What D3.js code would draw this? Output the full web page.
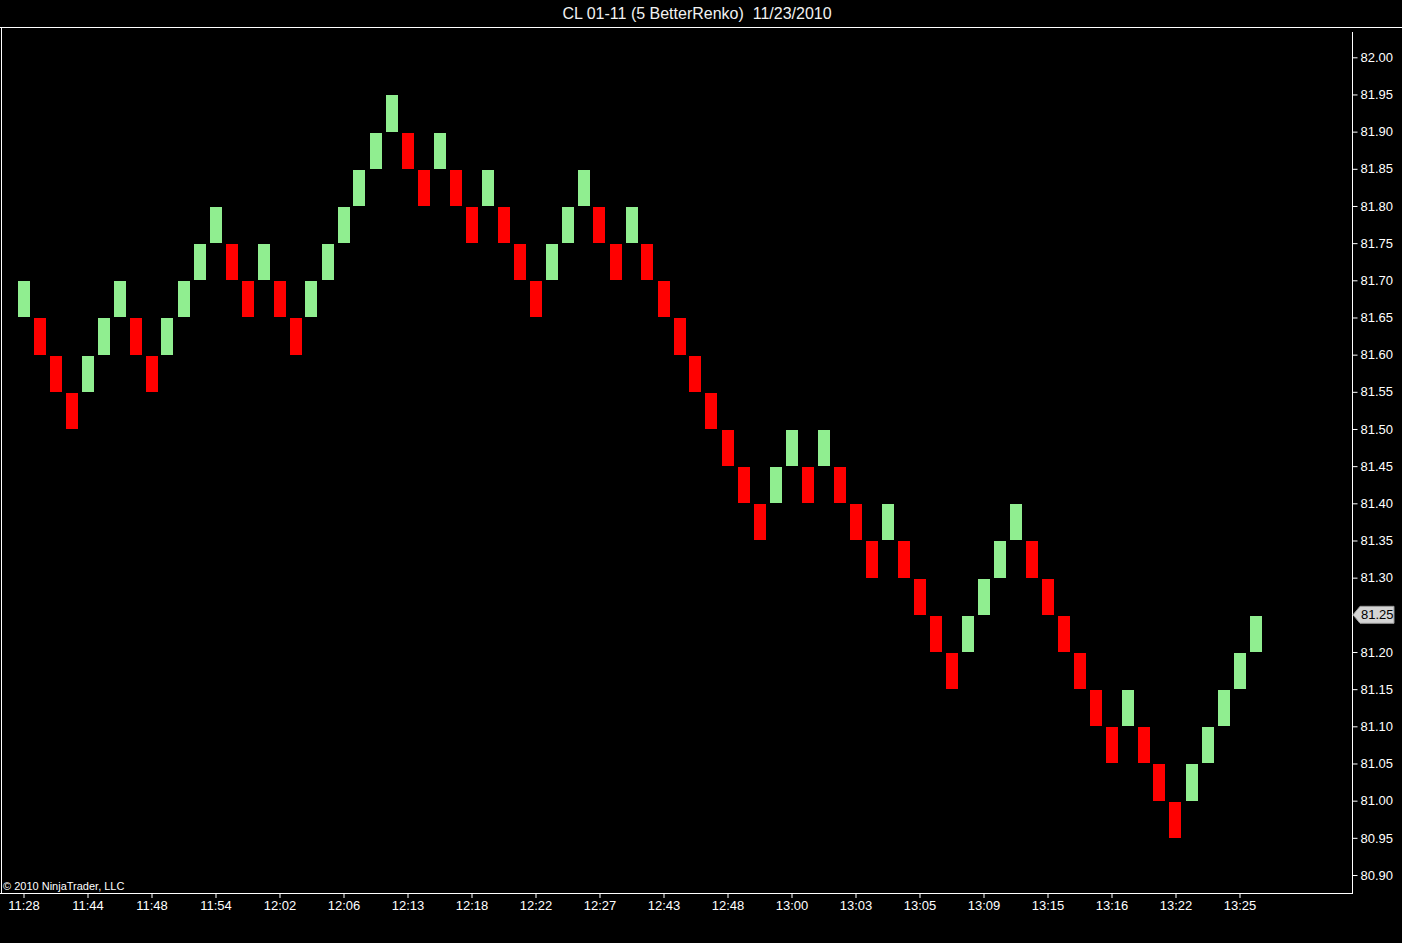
<!DOCTYPE html>
<html>
<head>
<meta charset="utf-8">
<script src="https://cdn.jsdelivr.net/npm/d3@7"></script>
<style>
  html, body { margin: 0; padding: 0; background: #000; }
  svg text { font-family: "Liberation Sans", Arial, sans-serif; }
</style>
</head>
<body>
<div id="chart"></div>
<script>
var svgWidth = 1402;
var svgHeight = 943;

// brick lows (5 tick brick = 0.05) and direction (1 up / -1 down)
var brickLow = [
  81.65, 81.60, 81.55, 81.50, 81.55, 81.60, 81.65, 81.60, 81.55, 81.60,
  81.65, 81.70, 81.75, 81.70, 81.65, 81.70, 81.65, 81.60, 81.65, 81.70,
  81.75, 81.80, 81.85, 81.90, 81.85, 81.80, 81.85, 81.80, 81.75, 81.80,
  81.75, 81.70, 81.65, 81.70, 81.75, 81.80, 81.75, 81.70, 81.75, 81.70,
  81.65, 81.60, 81.55, 81.50, 81.45, 81.40, 81.35, 81.40, 81.45, 81.40,
  81.45, 81.40, 81.35, 81.30, 81.35, 81.30, 81.25, 81.20, 81.15, 81.20,
  81.25, 81.30, 81.35, 81.30, 81.25, 81.20, 81.15, 81.10, 81.05, 81.10,
  81.05, 81.00, 80.95, 81.00, 81.05, 81.10, 81.15, 81.20
];
var brickDir = [
   1, -1, -1, -1,  1,  1,  1, -1, -1,  1,
   1,  1,  1, -1, -1,  1, -1, -1,  1,  1,
   1,  1,  1,  1, -1, -1,  1, -1, -1,  1,
  -1, -1, -1,  1,  1,  1, -1, -1,  1, -1,
  -1, -1, -1, -1, -1, -1, -1,  1,  1, -1,
   1, -1, -1, -1,  1, -1, -1, -1, -1,  1,
   1,  1,  1, -1, -1, -1, -1, -1, -1,  1,
  -1, -1, -1,  1,  1,  1,  1,  1
];
var brickSize = 0.05;

// time labels, one every 4 bricks
var timeLabels = ["11:28", "11:44", "11:48", "11:54", "12:02", "12:06", "12:13",
  "12:18", "12:22", "12:27", "12:43", "12:48", "13:00", "13:03", "13:05",
  "13:09", "13:15", "13:16", "13:22", "13:25"];

var priceTicks = d3.range(0, 23).map(function(i){ return +(80.90 + i * 0.05).toFixed(2); });
var lastPrice = 81.25;

var title = "CL 01-11 (5 BetterRenko)  11/23/2010";

var plot = { left: 1, right: 1352, top: 27, bottom: 893 };

var svg = d3.select("#chart")
  .append("svg")
  .attr("width", svgWidth)
  .attr("height", svgHeight)
  .style("display", "block")
  .style("background", "#000");

var xScale = d3.scaleLinear()
  .domain([0, brickLow.length - 1])
  .range([23.5, 23.5 + 16 * (brickLow.length - 1)]);

var yScale = d3.scaleLinear()
  .domain([80.90, 82.00])
  .range([875, 57.3]);

// title
svg.append("text")
  .attr("x", 697)
  .attr("y", 19)
  .attr("text-anchor", "middle")
  .style("white-space", "pre")
  .attr("fill", "#f2f2f2")
  .style("font-size", "16px")
  .text(title);

// frame
svg.append("line")
  .attr("x1", 0).attr("x2", svgWidth)
  .attr("y1", plot.top + 0.5).attr("y2", plot.top + 0.5)
  .attr("stroke", "#fff");
svg.append("line")
  .attr("x1", plot.left + 0.5).attr("x2", plot.left + 0.5)
  .attr("y1", plot.top).attr("y2", plot.bottom)
  .attr("stroke", "#fff");

// bricks
var bricks = svg.append("g");
bricks.selectAll("rect")
  .data(brickLow.map(function(d, i){ return { i: i, low: d, dir: brickDir[i] }; }))
  .enter()
  .append("rect")
  .attr("x", function(d){ return Math.round(xScale(d.i)) - 6; })
  .attr("width", 12)
  .attr("y", function(d){ return Math.round(yScale(d.low + brickSize)) + 1; })
  .attr("height", function(d){ return Math.round(yScale(d.low)) - Math.round(yScale(d.low + brickSize)) - 1; })
  .attr("fill", function(d){ return d.dir > 0 ? "#90ee90" : "#ff0000"; });

// bottom axis
var bottomAxis = d3.axisBottom(xScale)
  .tickValues(d3.range(0, timeLabels.length).map(function(i){ return i * 4; }))
  .tickFormat(function(d){ return timeLabels[d / 4]; })
  .tickSize(5)
  .tickSizeOuter(0)
  .tickPadding(3);

var xAxis = svg.append("g")
  .attr("transform", `translate(0,${plot.bottom})`)
  .call(bottomAxis);
xAxis.select(".domain").remove();
xAxis.selectAll("line").attr("stroke", "#fff");
xAxis.selectAll("text")
  .attr("fill", "#fff")
  .style("font-size", "13px")
  .style("font-family", "'Liberation Sans', Arial, sans-serif");

svg.append("line")
  .attr("x1", 0).attr("x2", plot.right + 1)
  .attr("y1", plot.bottom + 0.5).attr("y2", plot.bottom + 0.5)
  .attr("stroke", "#fff");

// right axis
var rightAxis = d3.axisRight(yScale)
  .tickValues(priceTicks.filter(function(d){ return Math.abs(d - lastPrice) > 0.001; }))
  .tickFormat(d3.format(".2f"))
  .tickSize(5)
  .tickSizeOuter(0)
  .tickPadding(3);

var yAxis = svg.append("g")
  .attr("transform", `translate(${plot.right + 0.5},0)`)
  .call(rightAxis);
yAxis.select(".domain").remove();
yAxis.selectAll("line").attr("stroke", "#fff");
yAxis.selectAll("text")
  .attr("fill", "#fff")
  .style("font-size", "13px")
  .style("font-family", "'Liberation Sans', Arial, sans-serif");

svg.append("line")
  .attr("x1", plot.right + 0.5).attr("x2", plot.right + 0.5)
  .attr("y1", 32).attr("y2", plot.bottom + 1)
  .attr("stroke", "#fff");

// last price marker
var ly = yScale(lastPrice);
var marker = svg.append("g").attr("transform", `translate(${plot.right + 1},${ly})`);
marker.append("path")
  .attr("d", "M0,0 L7,-8.5 L41,-8.5 L41,8.5 L7,8.5 Z")
  .attr("fill", "#d4d4d4")
  .attr("stroke", "#9a9a9a");
marker.append("text")
  .attr("x", 8)
  .attr("y", 4.5)
  .attr("fill", "#000")
  .style("font-size", "13px")
  .text(d3.format(".2f")(lastPrice));

// copyright
svg.append("text")
  .attr("x", 3)
  .attr("y", 890)
  .attr("fill", "#fff")
  .style("font-size", "11px")
  .text("\u00a9 2010 NinjaTrader, LLC");
</script>
</body>
</html>
